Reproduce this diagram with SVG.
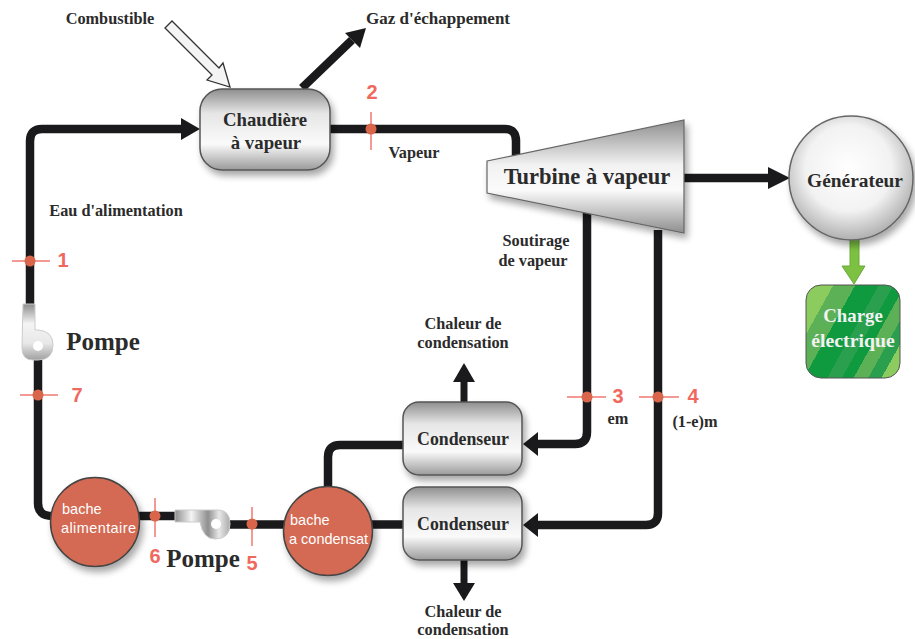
<svg xmlns="http://www.w3.org/2000/svg" width="915" height="639" viewBox="0 0 915 639">
<style>
.t{font-family:"Liberation Serif","Times New Roman",serif;font-weight:bold;fill:#2b2b2b;text-anchor:middle}
.s{font-size:16.300px}
.n{font-family:"Liberation Sans",Arial,sans-serif;font-weight:bold;font-size:20px;fill:#f0695f;text-anchor:middle}
.w{font-family:"Liberation Sans",Arial,sans-serif;font-size:14.500px;fill:#fff}
.p{fill:none;stroke:#1a1a1c;stroke-width:8.500}
.tick{stroke:#ee7a70;stroke-width:1.500;fill:none}
.dot{fill:#d9654a}
.box{fill:url(#gb);stroke:#555;stroke-width:1.500;filter:url(#sh)}
.tank{fill:#d46a52;stroke:#444;stroke-width:1.500;filter:url(#sh)}
.h{fill:#1a1a1c}
</style>
<defs>
<linearGradient id="gb" x1="0" y1="0" x2="0" y2="1"><stop offset="0" stop-color="#8e8e8e"/><stop offset=".3" stop-color="#e6e6e6"/><stop offset=".68" stop-color="#fafafa"/><stop offset="1" stop-color="#9a9a9a"/></linearGradient>
<linearGradient id="gt" x1="0" y1="0" x2="0" y2="1"><stop offset="0" stop-color="#8e8e8e"/><stop offset=".4" stop-color="#f2f2f2"/><stop offset=".62" stop-color="#fbfbfb"/><stop offset="1" stop-color="#8e8e8e"/></linearGradient>
<radialGradient id="gc" cx=".48" cy=".42" r=".58"><stop offset="0" stop-color="#fff"/><stop offset=".6" stop-color="#f2f2f2"/><stop offset="1" stop-color="#b0b0b0"/></radialGradient>
<linearGradient id="pv" x1="0" y1="0" x2="1" y2="0"><stop offset="0" stop-color="#8e8e8e"/><stop offset=".3" stop-color="#f4f4f4"/><stop offset=".6" stop-color="#8f8f8f"/><stop offset=".8" stop-color="#e8e8e8"/><stop offset="1" stop-color="#aaa"/></linearGradient>
<linearGradient id="ph" x1="0" y1="0" x2="0" y2="1"><stop offset="0" stop-color="#8e8e8e"/><stop offset=".35" stop-color="#f4f4f4"/><stop offset=".7" stop-color="#e8e8e8"/><stop offset="1" stop-color="#a0a0a0"/></linearGradient>
<linearGradient id="gs" x1="797" y1="300.400" x2="909" y2="362.600" gradientUnits="userSpaceOnUse">
<stop offset="0" stop-color="#8ccb5e"/><stop offset=".19" stop-color="#8ccb5e"/><stop offset=".19" stop-color="#5cb156"/><stop offset=".34" stop-color="#5cb156"/><stop offset=".34" stop-color="#0f9a40"/><stop offset=".5" stop-color="#0f9a40"/><stop offset=".5" stop-color="#2a9f4e"/><stop offset=".6" stop-color="#2a9f4e"/><stop offset=".6" stop-color="#0f9a40"/><stop offset=".68" stop-color="#0f9a40"/><stop offset=".68" stop-color="#5cb156"/><stop offset=".78" stop-color="#5cb156"/><stop offset=".78" stop-color="#2a9f4e"/><stop offset=".87" stop-color="#2a9f4e"/><stop offset=".87" stop-color="#8ccb5e"/><stop offset="1" stop-color="#8ccb5e"/>
</linearGradient>
<filter id="sh" x="-20%" y="-20%" width="140%" height="145%"><feGaussianBlur in="SourceAlpha" stdDeviation="3.500"/><feOffset dx="3" dy="5"/><feComponentTransfer><feFuncA type="linear" slope=".35"/></feComponentTransfer><feMerge><feMergeNode/><feMergeNode in="SourceGraphic"/></feMerge></filter>
</defs>
<rect width="915" height="639" fill="#fff"/>
<g id="connectors">
<path class="p" d="M183 129H42Q30 129 30 141V310"/>
<path class="h" d="M181 118L200 129L181 140Z"/>
<path class="p" d="M38 355V503Q38 516 52 516H178"/>
<path class="p" d="M225 524.500H290"/>
<path class="p" d="M365 524.500H410"/>
<path class="p" d="M328 492V457Q328 445 340 445H410"/>
<path class="p" d="M328 129H505Q516 129 516 141V160"/>
<path class="p" d="M587 210V432Q587 444 575 444H536"/>
<path class="h" d="M538 432L523 444L538 456Z"/>
<path class="p" d="M658 230V513Q658 525 646 525H536"/>
<path class="h" d="M538 513L523 525L538 537Z"/>
<path class="p" d="M680 178H770"/>
<path class="h" d="M768 167L790 178L768 189Z"/>
<path class="p" d="M302 88L352 40"/>
<path class="h" d="M345 33L366 28L360 48Z"/>
<path class="p" style="stroke-width:7" d="M464 405V380"/>
<path class="h" d="M453 382L464 363L475 382Z"/>
<path class="p" style="stroke-width:7" d="M464 555V585"/>
<path class="h" d="M453 583L464 601L475 583Z"/>
<path d="M165 28L172 21L219 68L223 63L230 87L207 80L212 75Z" fill="#f4f4f4" stroke="#333" stroke-width="1.300"/>
<path d="M850 240H859V266H865L854 284L842 266H850Z" fill="#7cc142" stroke="#6aaa38" stroke-width="1"/>
</g>
<g id="turbine"><polygon points="487,161 684,120 684,233 487,193" fill="url(#gt)" stroke="#666" stroke-width="1.200" filter="url(#sh)"/><text class="t" x="587" y="184" style="font-size:22.500px">Turbine à vapeur</text></g>
<g id="chaudiere"><rect class="box" x="200" y="89" width="130" height="81" rx="22"/><text class="t" x="265" y="126" style="font-size:18.800px">Chaudière</text><text class="t" x="266" y="149" style="font-size:18.800px">à vapeur</text></g>
<g id="generateur"><circle cx="851" cy="178" r="62" fill="url(#gc)" stroke="#666" stroke-width="1.500" filter="url(#sh)"/><text class="t" x="855" y="187" style="font-size:19.400px">Générateur</text></g>
<g id="charge"><rect x="806" y="285" width="94" height="93" rx="15" fill="url(#gs)" stroke="#555" stroke-width="1"/><text class="t" x="853" y="322" style="fill:#f2f2f2;font-size:18.800px">Charge</text><text class="t" x="853" y="347" style="fill:#f2f2f2;font-size:19.800px">électrique</text></g>
<g id="condenseur1"><rect class="box" x="403" y="402" width="119" height="73" rx="16"/><text class="t" x="463" y="445" style="font-size:17.800px">Condenseur</text></g>
<g id="condenseur2"><rect class="box" x="403" y="487" width="119" height="73" rx="16"/><text class="t" x="463" y="530" style="font-size:17.800px">Condenseur</text></g>
<g id="tache1"><circle class="tank" cx="95" cy="522" r="44.500"/><text class="w" x="62" y="514">bache</text><text class="w" x="61" y="533" textLength="75">alimentaire</text></g>
<g id="tache2"><circle class="tank" cx="328" cy="531" r="44.500"/><text class="w" x="290" y="525">bache</text><text class="w" x="289" y="544">a condensat</text></g>
<g id="pompe1"><path d="M23 304H35V330H38Q53 331 53 345Q53 360 38 360H33Q22 360 22 348Z" fill="url(#ph)" stroke="#ccc"/><circle cx="38" cy="346" r="5" fill="#fff"/><text class="t" x="103" y="350" style="font-size:25px">Pompe</text></g>
<g id="pompe2"><path d="M175 510H218Q230 510 230 524Q230 539 215 539Q203 539 200 522H175Z" fill="url(#pv)" stroke="#ccc"/><circle cx="216" cy="524" r="5" fill="#fff"/><text class="t" x="203" y="567" style="font-size:25px">Pompe</text></g>
<g id="points">
<path class="tick" d="M12 261H50M20 395H58M155 498V537M252 507V546M371 112V150M567 397H606M639 397H679"/>
<circle class="dot" cx="30" cy="261" r="5.500"/><circle class="dot" cx="38" cy="395" r="5.500"/><circle class="dot" cx="155" cy="516" r="5.500"/><circle class="dot" cx="252" cy="524" r="5.500"/><circle class="dot" cx="371" cy="129" r="5.500"/><circle class="dot" cx="587" cy="397" r="5.500"/><circle class="dot" cx="658" cy="397" r="5.500"/>
<text class="n" x="63" y="267">1</text><text class="n" x="372" y="99">2</text><text class="n" x="618" y="403">3</text><text class="n" x="693" y="403">4</text><text class="n" x="252" y="570">5</text><text class="n" x="155" y="563">6</text><text class="n" x="77" y="402">7</text>
</g>
<g id="labels">
<text class="t s" x="110" y="24">Combustible</text>
<text class="t s" x="438" y="24" style="font-size:17px">Gaz d'échappement</text>
<text class="t s" x="414" y="158">Vapeur</text>
<text class="t s" x="116" y="216">Eau d'alimentation</text>
<text class="t s" x="536" y="246">Soutirage</text>
<text class="t s" x="533" y="266">de vapeur</text>
<text class="t s" x="463" y="329">Chaleur de</text>
<text class="t s" x="463" y="348">condensation</text>
<text class="t s" x="618" y="424">em</text>
<text class="t s" x="695" y="427">(1-e)m</text>
<text class="t s" x="463" y="617">Chaleur de</text>
<text class="t s" x="463" y="634.500">condensation</text>
</g>
</svg>
